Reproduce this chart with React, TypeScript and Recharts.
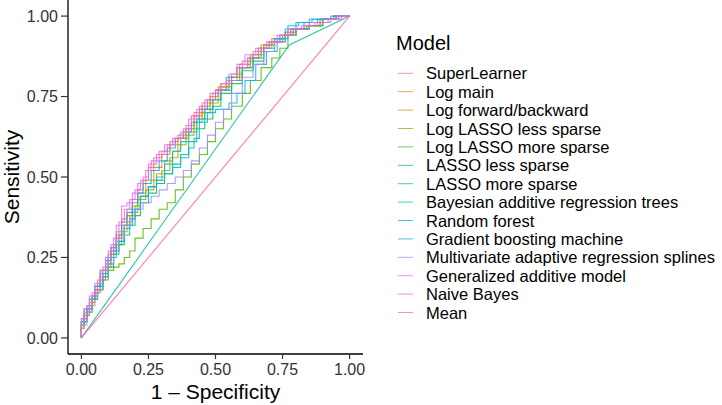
import { LineChart, Line, XAxis, YAxis, Legend } from 'recharts'

const MODELS = [
  'SuperLearner',
  'Log main',
  'Log forward/backward',
  'Log LASSO less sparse',
  'Log LASSO more sparse',
  'LASSO less sparse',
  'LASSO more sparse',
  'Bayesian additive regression trees',
  'Random forest',
  'Gradient boosting machine',
  'Multivariate adaptive regression splines',
  'Generalized additive model',
  'Naive Bayes',
  'Mean',
]

// ggplot default hue palette, 14 levels
const COLORS = [
  '#F8766D', '#E38900', '#C49A00', '#99A800', '#53B400', '#00BC56', '#00C094',
  '#00BFC4', '#00B6EB', '#06A4FF', '#A58AFF', '#DF70F8', '#FB61D7', '#FF66A8',
]

const TICKS = [0, 0.25, 0.5, 0.75, 1]

// [1 - specificity, sensitivity]
const SUPER_LEARNER = [[0, 0], [0.01, 0.04], [0.03, 0.08], [0.05, 0.12], [0.07, 0.16], [0.09, 0.21], [0.11, 0.25], [0.13, 0.28], [0.15, 0.33], [0.17, 0.37], [0.19, 0.4], [0.21, 0.43], [0.23, 0.46], [0.25, 0.49], [0.27, 0.53], [0.3, 0.56], [0.33, 0.58], [0.36, 0.61], [0.39, 0.63], [0.42, 0.66], [0.45, 0.7], [0.48, 0.73], [0.52, 0.76], [0.56, 0.79], [0.6, 0.82], [0.64, 0.86], [0.68, 0.89], [0.72, 0.91], [0.76, 0.93], [0.8, 0.95], [0.85, 0.96], [0.9, 0.98], [0.95, 0.99], [1, 1]]
const LOG_MAIN = [[0, 0], [0.01, 0.03], [0.03, 0.07], [0.05, 0.11], [0.07, 0.15], [0.09, 0.19], [0.11, 0.23], [0.13, 0.27], [0.15, 0.31], [0.17, 0.35], [0.19, 0.38], [0.21, 0.41], [0.24, 0.45], [0.27, 0.49], [0.3, 0.53], [0.33, 0.57], [0.36, 0.6], [0.39, 0.62], [0.42, 0.65], [0.45, 0.69], [0.48, 0.72], [0.51, 0.75], [0.55, 0.78], [0.59, 0.81], [0.63, 0.85], [0.67, 0.88], [0.71, 0.91], [0.75, 0.93], [0.79, 0.94], [0.84, 0.96], [0.89, 0.97], [0.94, 0.99], [1, 1]]
const LOG_FWD_BWD = [[0, 0], [0.02, 0.05], [0.04, 0.09], [0.06, 0.13], [0.08, 0.17], [0.1, 0.21], [0.12, 0.26], [0.14, 0.29], [0.16, 0.32], [0.18, 0.35], [0.2, 0.38], [0.22, 0.41], [0.25, 0.44], [0.28, 0.47], [0.31, 0.51], [0.34, 0.55], [0.37, 0.58], [0.4, 0.62], [0.43, 0.65], [0.46, 0.68], [0.49, 0.71], [0.52, 0.74], [0.56, 0.78], [0.6, 0.81], [0.64, 0.84], [0.68, 0.88], [0.72, 0.91], [0.76, 0.93], [0.8, 0.95], [0.85, 0.96], [0.9, 0.98], [0.95, 0.99], [1, 1]]
const LOG_LASSO_LESS = [[0, 0], [0.01, 0.03], [0.03, 0.07], [0.05, 0.1], [0.07, 0.14], [0.09, 0.18], [0.11, 0.22], [0.13, 0.26], [0.15, 0.29], [0.17, 0.33], [0.19, 0.36], [0.21, 0.39], [0.24, 0.43], [0.27, 0.46], [0.3, 0.49], [0.33, 0.52], [0.36, 0.56], [0.39, 0.6], [0.42, 0.63], [0.45, 0.67], [0.48, 0.7], [0.51, 0.73], [0.55, 0.77], [0.59, 0.8], [0.63, 0.84], [0.67, 0.87], [0.71, 0.9], [0.75, 0.92], [0.79, 0.94], [0.84, 0.96], [0.89, 0.97], [0.94, 0.99], [1, 1]]
const LOG_LASSO_MORE = [[0, 0], [0.02, 0.05], [0.04, 0.09], [0.06, 0.12], [0.08, 0.15], [0.1, 0.18], [0.12, 0.21], [0.14, 0.22], [0.16, 0.23], [0.18, 0.25], [0.2, 0.27], [0.23, 0.31], [0.26, 0.34], [0.29, 0.37], [0.32, 0.4], [0.35, 0.42], [0.38, 0.46], [0.41, 0.5], [0.44, 0.54], [0.47, 0.57], [0.5, 0.61], [0.53, 0.65], [0.56, 0.68], [0.6, 0.72], [0.63, 0.76], [0.67, 0.8], [0.71, 0.84], [0.74, 0.87], [0.77, 0.9], [0.8, 0.94], [0.85, 0.96], [0.9, 0.97], [0.95, 0.99], [1, 1]]
const LASSO_LESS = [[0, 0], [0.02, 0.05], [0.04, 0.09], [0.06, 0.12], [0.08, 0.15], [0.1, 0.19], [0.12, 0.22], [0.14, 0.26], [0.16, 0.29], [0.18, 0.32], [0.2, 0.35], [0.22, 0.38], [0.25, 0.42], [0.28, 0.45], [0.31, 0.48], [0.34, 0.51], [0.37, 0.54], [0.4, 0.57], [0.43, 0.61], [0.46, 0.65], [0.49, 0.68], [0.52, 0.72], [0.56, 0.76], [0.6, 0.79], [0.64, 0.83], [0.68, 0.86], [0.72, 0.89], [0.76, 0.92], [0.8, 0.94], [0.85, 0.96], [0.9, 0.97], [0.95, 0.99], [1, 1]]
const LASSO_MORE = [[0, 0], [0.775, 0.91], [1, 1]]
const BART = [[0, 0], [0.02, 0.05], [0.04, 0.08], [0.06, 0.12], [0.08, 0.16], [0.1, 0.2], [0.12, 0.23], [0.14, 0.27], [0.16, 0.3], [0.18, 0.34], [0.2, 0.37], [0.22, 0.4], [0.25, 0.44], [0.28, 0.47], [0.31, 0.5], [0.34, 0.54], [0.37, 0.58], [0.4, 0.61], [0.43, 0.64], [0.46, 0.68], [0.49, 0.71], [0.52, 0.74], [0.56, 0.77], [0.6, 0.8], [0.64, 0.84], [0.68, 0.87], [0.72, 0.9], [0.76, 0.93], [0.8, 0.96], [0.85, 0.98], [0.9, 0.99], [0.95, 0.99], [1, 1]]
const RANDOM_FOREST = [[0, 0], [0.02, 0.06], [0.04, 0.1], [0.06, 0.13], [0.08, 0.16], [0.1, 0.19], [0.13, 0.25], [0.16, 0.3], [0.19, 0.35], [0.22, 0.4], [0.25, 0.44], [0.28, 0.47], [0.31, 0.49], [0.34, 0.51], [0.37, 0.53], [0.4, 0.56], [0.42, 0.59], [0.44, 0.62], [0.47, 0.67], [0.5, 0.7], [0.55, 0.71], [0.58, 0.73], [0.61, 0.76], [0.65, 0.8], [0.69, 0.85], [0.73, 0.89], [0.77, 0.93], [0.81, 0.97], [0.86, 0.98], [0.91, 0.99], [0.96, 0.99], [1, 1]]
const GBM = [[0, 0], [0.01, 0.04], [0.03, 0.09], [0.05, 0.12], [0.07, 0.16], [0.09, 0.2], [0.11, 0.24], [0.13, 0.28], [0.15, 0.32], [0.17, 0.36], [0.19, 0.39], [0.21, 0.42], [0.23, 0.45], [0.26, 0.48], [0.29, 0.52], [0.32, 0.55], [0.35, 0.59], [0.38, 0.62], [0.41, 0.64], [0.44, 0.67], [0.47, 0.71], [0.5, 0.74], [0.54, 0.77], [0.58, 0.81], [0.62, 0.84], [0.66, 0.87], [0.7, 0.9], [0.74, 0.92], [0.78, 0.94], [0.83, 0.96], [0.88, 0.98], [0.93, 0.99], [1, 1]]
const MARS = [[0, 0], [0.02, 0.04], [0.04, 0.08], [0.06, 0.12], [0.08, 0.15], [0.1, 0.19], [0.12, 0.23], [0.14, 0.27], [0.16, 0.31], [0.18, 0.35], [0.2, 0.37], [0.23, 0.4], [0.26, 0.42], [0.29, 0.44], [0.32, 0.46], [0.35, 0.48], [0.38, 0.5], [0.41, 0.52], [0.44, 0.55], [0.47, 0.59], [0.5, 0.63], [0.53, 0.67], [0.56, 0.71], [0.6, 0.76], [0.64, 0.81], [0.68, 0.85], [0.72, 0.89], [0.76, 0.92], [0.8, 0.94], [0.85, 0.96], [0.9, 0.98], [0.95, 0.99], [1, 1]]
const GAM = [[0, 0], [0.01, 0.04], [0.03, 0.09], [0.05, 0.13], [0.07, 0.17], [0.09, 0.21], [0.11, 0.25], [0.13, 0.29], [0.15, 0.35], [0.17, 0.41], [0.19, 0.42], [0.21, 0.45], [0.23, 0.48], [0.25, 0.5], [0.28, 0.54], [0.31, 0.57], [0.34, 0.6], [0.37, 0.62], [0.4, 0.64], [0.43, 0.68], [0.46, 0.71], [0.49, 0.74], [0.52, 0.76], [0.55, 0.79], [0.58, 0.82], [0.61, 0.85], [0.65, 0.88], [0.69, 0.9], [0.73, 0.92], [0.77, 0.94], [0.82, 0.96], [0.87, 0.97], [0.92, 0.98], [0.96, 0.99], [1, 1]]
const NAIVE_BAYES = [[0, 0], [0.02, 0.06], [0.04, 0.1], [0.06, 0.14], [0.08, 0.18], [0.1, 0.22], [0.12, 0.27], [0.14, 0.31], [0.16, 0.36], [0.18, 0.4], [0.2, 0.43], [0.22, 0.46], [0.24, 0.49], [0.26, 0.52], [0.29, 0.55], [0.32, 0.58], [0.35, 0.6], [0.38, 0.62], [0.41, 0.65], [0.44, 0.69], [0.47, 0.72], [0.5, 0.74], [0.54, 0.77], [0.58, 0.8], [0.62, 0.84], [0.66, 0.87], [0.7, 0.9], [0.74, 0.92], [0.78, 0.94], [0.83, 0.96], [0.88, 0.97], [0.93, 0.98], [0.97, 0.99], [1, 1]]
const MEAN = [[0, 0], [1, 1]]

const CURVES = [
  SUPER_LEARNER, LOG_MAIN, LOG_FWD_BWD, LOG_LASSO_LESS, LOG_LASSO_MORE, LASSO_LESS, LASSO_MORE,
  BART, RANDOM_FOREST, GBM, MARS, GAM, NAIVE_BAYES, MEAN,
]

const FONT = '"Liberation Sans", Arial, Helvetica, sans-serif'

function ModelLegend() {
  return (
    <svg width={334} height={330} style={{ fontFamily: FONT }}>
      <text x={8} y={50} fontSize={20} fill="#000">Model</text>
      {MODELS.map((m, i) => {
        const cy = 73.3 + i * 18.4
        return (
          <g key={m}>
            <line x1={10} x2={25} y1={cy} y2={cy} stroke={COLORS[i]} strokeWidth={1} strokeOpacity={0.75} />
            <text x={38} y={cy + 6} fontSize={16.5} fill="#000">{m}</text>
          </g>
        )
      })}
    </svg>
  )
}

export default function App() {
  return (
    <div style={{ position: 'absolute', left: 0, top: 0, width: 722, height: 405, background: '#fff' }}>
      <LineChart width={722} height={405} margin={{ top: 0, right: 359, bottom: 0, left: 0 }} style={{ fontFamily: FONT }}>
        <XAxis
          type="number"
          dataKey="fpr"
          domain={[-0.05, 1.05]}
          ticks={TICKS}
          allowDataOverflow
          tickFormatter={(v: number) => v.toFixed(2)}
          height={51}
          tickSize={5}
          tickMargin={5}
          axisLine={{ stroke: '#000', strokeWidth: 1.3 }}
          tickLine={{ stroke: '#333', strokeWidth: 1.2 }}
          tick={{ fill: '#333', fontSize: 16 }}
          label={{
            content: (p: any) => {
              const vb = p.viewBox || { x: 68, y: 354, width: 295 }
              return (
                <text x={vb.x + vb.width / 2} y={vb.y + 45} textAnchor="middle" fontSize={21} fill="#000">
                  1 – Specificity
                </text>
              )
            },
          }}
        />
        <YAxis
          type="number"
          domain={[-0.05, 1.05]}
          ticks={TICKS}
          allowDataOverflow
          tickFormatter={(v: number) => v.toFixed(2)}
          width={68}
          tickSize={7}
          tickMargin={3}
          axisLine={{ stroke: '#000', strokeWidth: 1.3 }}
          tickLine={{ stroke: '#333', strokeWidth: 1.2 }}
          tick={{ fill: '#333', fontSize: 16 }}
          label={{
            content: (p: any) => {
              const vb = p.viewBox || { x: 0, y: 0, height: 354 }
              const cy = vb.y + vb.height / 2
              return (
                <text x={19} y={cy} transform={`rotate(-90, 19, ${cy})`} textAnchor="middle" fontSize={21} fill="#000">
                  Sensitivity
                </text>
              )
            },
          }}
        />
        {CURVES.map((c, i) => (
          <Line
            key={MODELS[i]}
            name={MODELS[i]}
            data={c.map(([fpr, tpr]) => ({ fpr, tpr }))}
            dataKey="tpr"
            type={c.length > 3 ? 'stepBefore' : 'linear'}
            stroke={COLORS[i]}
            strokeWidth={1.1}
            strokeOpacity={0.85}
            dot={false}
            activeDot={false}
            isAnimationActive={false}
          />
        ))}
        <Legend
          layout="horizontal"
          align="center"
          verticalAlign="middle"
          wrapperStyle={{ left: 388, top: 0, width: 334, height: 330 }}
          content={() => <ModelLegend />}
        />
      </LineChart>
    </div>
  )
}
